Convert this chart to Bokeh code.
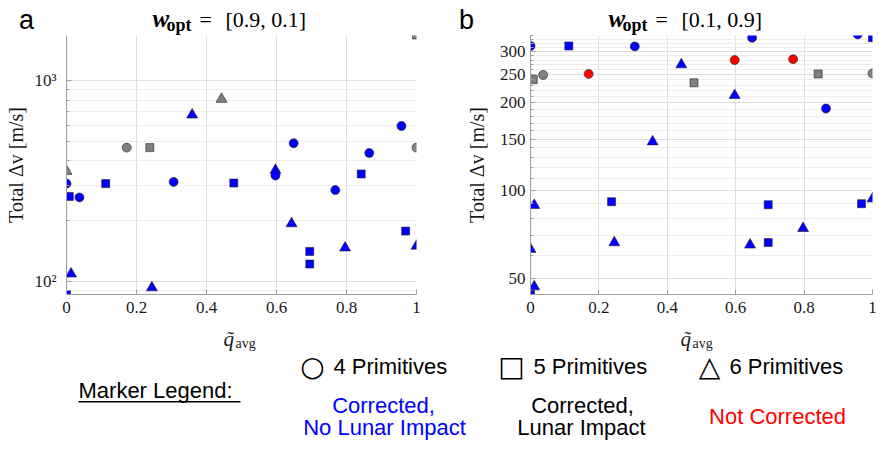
from bokeh.plotting import figure
from bokeh.models import ColumnDataSource, FixedTicker, Range1d, Label, BoxAnnotation
from bokeh.layouts import column, row
from bokeh.embed import file_html
from bokeh.resources import INLINE

# ---------------- data ----------------
# panel a : w_opt = [0.9, 0.1]
a_q = [1.0, 0.359, 0.443, 0.172, 0.238, 0.649, 0.865, 0.957, 1.0, 0.0,
       0.0, 0.112, 0.306, 0.478, 0.597, 0.597, 0.842, 0.768, 0.008, 0.037,
       0.643, 0.969, 1.0, 0.796, 0.695, 0.695, 0.013, 0.244, 0.0]
a_dv = [1690, 676, 809, 464, 464, 488, 436, 595, 464, 354,
        307, 307, 313, 309, 358, 337, 343, 285, 265, 262,
        194, 178, 150, 147, 141, 122, 109, 93, 86]
a_prims = [5, 6, 6, 4, 5, 4, 4, 4, 4, 6,
           4, 5, 4, 5, 6, 4, 5, 4, 5, 4,
           6, 5, 6, 6, 5, 5, 6, 6, 5]
a_status = ["lunar", "ok", "lunar", "lunar", "lunar", "ok", "ok", "ok", "lunar", "lunar",
            "ok", "ok", "ok", "ok", "ok", "ok", "ok", "ok", "ok", "ok",
            "ok", "ok", "ok", "ok", "ok", "ok", "ok", "ok", "ok"]

# panel b : w_opt = [0.1, 0.9]
b_q = [0.0, 0.112, 0.305, 0.648, 0.957, 1.0, 0.597, 0.768, 0.170, 0.008,
       0.037, 0.441, 0.478, 0.841, 1.0, 0.597, 0.864, 0.357, 0.237, 0.011,
       0.695, 0.968, 1.0, 0.797, 0.245, 0.642, 0.695, 0.0, 0.011, 0.0]
b_dv = [313, 313, 312, 334, 343, 334, 280, 282, 251, 240,
        249, 270, 234, 251, 252, 212, 191, 147, 91.5, 89,
        89.4, 90.1, 93.7, 74.2, 66.3, 65.1, 66.3, 62.9, 46.8, 44.0]
b_prims = [4, 5, 4, 4, 4, 5, 4, 4, 4, 5,
           4, 6, 5, 5, 4, 6, 4, 6, 5, 6,
           5, 5, 6, 6, 6, 6, 5, 6, 6, 5]
b_status = ["ok", "ok", "ok", "ok", "ok", "ok", "not", "not", "not", "lunar",
            "lunar", "ok", "lunar", "lunar", "lunar", "ok", "ok", "ok", "ok", "ok",
            "ok", "ok", "ok", "ok", "ok", "ok", "ok", "ok", "ok", "ok"]

x_ticks = [0, 0.2, 0.4, 0.6, 0.8, 1]
x_tick_labels = ["0", "0.2", "0.4", "0.6", "0.8", "1"]

a_y_ticks = [100, 1000]
a_y_tick_labels = ["10²", "10³"]
a_y_minor = [90, 200, 300, 400, 500, 600, 700, 800, 900, 2000]
a_y_lim = [86, 1680]

b_y_ticks = [50, 100, 150, 200, 250, 300]
b_y_tick_labels = ["50", "100", "150", "200", "250", "300"]
b_y_minor = [40, 50, 60, 70, 80, 90, 100, 110, 120, 130, 140, 150, 160, 170, 180,
             190, 200, 210, 220, 230, 240, 250, 260, 270, 280, 290, 300, 310,
             320, 330, 340]
b_y_lim = [44, 340]

a_title_vals = "[0.9, 0.1]"
b_title_vals = "[0.1, 0.9]"

prim_marker = {4: "circle", 5: "square", 6: "triangle"}
prim_size = {4: 9, 5: 8, 6: 11}
status_color = {"ok": "#0000FF", "lunar": "#808080", "not": "#FF0000"}

SERIF = "Liberation Serif"
SANS = "Liberation Sans"
AXIS_GRAY = "#A0A0A0"

W = 878
TOP_H = 35
ROW_H = 289
BOT_H = 117


def make_panel(q, dv, prims, status, ylim, yticks, ylabels, yminor,
               width, border_left, border_right, ystand, lstand):
    p = figure(width=width, height=ROW_H, y_axis_type="log",
               x_range=Range1d(0, 1), y_range=Range1d(*ylim),
               output_backend="svg", toolbar_location=None,
               min_border_left=border_left, min_border_right=border_right,
               min_border_top=0, min_border_bottom=30)
    p.outline_line_color = None
    p.background_fill_color = "white"
    p.border_fill_color = "white"

    src = ColumnDataSource(dict(
        q=q, dv=dv,
        marker=[prim_marker[k] for k in prims],
        size=[prim_size[k] for k in prims],
        color=[status_color[s] for s in status],
    ))
    p.scatter("q", "dv", source=src, marker="marker", size="size",
              fill_color="color", line_color="#222222", line_width=0.6)

    xt = FixedTicker(ticks=x_ticks, minor_ticks=[])
    yt = FixedTicker(ticks=yticks, minor_ticks=yminor)
    p.xaxis.ticker = xt
    p.yaxis.ticker = yt
    p.xgrid.ticker = xt
    p.ygrid.ticker = yt
    p.xaxis.major_label_overrides = dict(zip(x_ticks, x_tick_labels))
    p.yaxis.major_label_overrides = dict(zip(yticks, ylabels))

    for ax in (p.xaxis, p.yaxis):
        ax.axis_line_color = AXIS_GRAY
        ax.major_tick_line_color = AXIS_GRAY
        ax.minor_tick_line_color = AXIS_GRAY
        ax.major_tick_in = 5
        ax.major_tick_out = 0
        ax.minor_tick_in = 3
        ax.minor_tick_out = 0
        ax.major_label_text_font = SERIF
        ax.major_label_text_font_size = "17px"
        ax.major_label_text_color = "#1a1a1a"
    p.xaxis.minor_tick_line_color = None
    p.xaxis.major_label_standoff = 7
    p.yaxis.major_label_standoff = ystand

    p.yaxis.axis_label = "Total Δv [m/s]"
    p.yaxis.axis_label_text_font = SERIF
    p.yaxis.axis_label_text_font_size = "20px"
    p.yaxis.axis_label_text_font_style = "normal"
    p.yaxis.axis_label_text_color = "#1a1a1a"
    p.yaxis.axis_label_standoff = lstand

    p.xgrid.grid_line_color = "#DEDEDE"
    p.ygrid.grid_line_color = "#DEDEDE"
    p.ygrid.minor_grid_line_color = "#EDEDED"
    return p


p1 = make_panel(a_q, a_dv, a_prims, a_status, a_y_lim, a_y_ticks, a_y_tick_labels,
                a_y_minor, 462, 66, 46, 10, 4)
p2 = make_panel(b_q, b_dv, b_prims, b_status, b_y_lim, b_y_ticks, b_y_tick_labels,
                b_y_minor, W - 462, 63, 6, 5, 9)


def strip(height):
    s = figure(width=W, height=height, x_range=Range1d(0, 1), y_range=Range1d(0, 1),
               output_backend="svg", toolbar_location=None,
               x_axis_location=None, y_axis_location=None,
               min_border=0, min_border_left=0, min_border_right=0,
               min_border_top=0, min_border_bottom=0)
    s.outline_line_color = None
    s.xgrid.visible = False
    s.ygrid.visible = False
    s.background_fill_color = "white"
    s.border_fill_color = "white"
    return s


top = strip(TOP_H)
bot = strip(BOT_H)


def lab(fig, y0, x, y, text, color="black", size="22px", align="left", font=SANS,
        style="normal"):
    # x, y: picture pixel positions; y0: picture y of the strip's bottom edge
    fig.add_layout(Label(x=x, y=y0 - y, x_units="screen", y_units="screen",
                         text=text, text_font=font, text_font_size=size,
                         text_font_style=style, text_align=align,
                         text_baseline="middle", text_color=color))


TY = TOP_H          # bottom edge of the top strip in picture coords
BY = TOP_H + ROW_H + BOT_H

# panel letters and titles
lab(top, TY, 26, 19, "a", size="27px", align="center")
lab(top, TY, 466, 19, "b", size="27px", align="center")
for (wx, vals) in ((152, a_title_vals), (608, b_title_vals)):
    lab(top, TY, wx, 18, "w", size="25px", font=SERIF, style="bold italic")
    lab(top, TY, wx + 14, 24, "opt", size="18px", font=SERIF, style="bold")
    lab(top, TY, wx + 47, 19, "=", size="22px", font=SERIF)
    lab(top, TY, wx + 73, 19, vals, size="22px", font=SERIF)

# x-axis labels  q~avg
for qx in (223, 680):
    lab(bot, BY, qx, 338, "q̃", size="21px", font=SERIF, style="italic",
        color="#1a1a1a")
    lab(bot, BY, qx + 12, 343, "avg", size="14px", font=SERIF, color="#1a1a1a")

# marker legend
lab(bot, BY, 312, 366, "○", size="28px", align="center", font="DejaVu Sans")
lab(bot, BY, 333, 366, "4 Primitives")
lab(bot, BY, 511, 366, "□", size="28px", align="center", font="DejaVu Sans")
lab(bot, BY, 533, 366, "5 Primitives")
lab(bot, BY, 709, 366, "△", size="28px", align="center", font="DejaVu Sans")
lab(bot, BY, 729, 366, "6 Primitives")
lab(bot, BY, 78, 390, "Marker Legend:")
bot.add_layout(BoxAnnotation(left=78, right=240, bottom=BY - 402,
                             top=BY - 400.5, left_units="screen",
                             right_units="screen", bottom_units="screen",
                             top_units="screen", fill_color="black",
                             fill_alpha=1, line_color=None))
lab(bot, BY, 383, 405, "Corrected,", color="#0000FF", align="center")
lab(bot, BY, 384, 427, "No Lunar Impact", color="#0000FF", align="center")
lab(bot, BY, 582, 405, "Corrected,", align="center")
lab(bot, BY, 581, 427, "Lunar Impact", align="center")
lab(bot, BY, 777, 416, "Not Corrected", color="#FF0000", align="center")

layout = column(top, row(p1, p2), bot)
open("out.html", "w").write(file_html(layout, INLINE))
